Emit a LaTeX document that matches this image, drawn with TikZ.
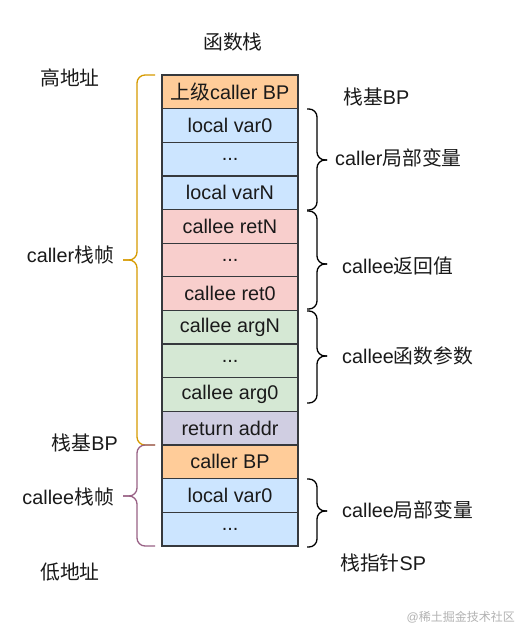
\documentclass[tikz,border=0pt]{standalone}
\usepackage{fontspec}
\setmainfont{Liberation Sans}
\newfontfamily\cjk{Noto Sans CJK SC}
\newcommand\zh[1]{{\cjk #1}}
\definecolor{orgF}{HTML}{FFCC99}
\definecolor{bluF}{HTML}{CCE5FF}
\definecolor{redF}{HTML}{F8CECC}
\definecolor{grnF}{HTML}{D5E8D4}
\definecolor{purF}{HTML}{D0CEE2}
\definecolor{strk}{HTML}{36393D}
\definecolor{txt}{HTML}{1A1A1A}
\definecolor{orgB}{HTML}{D79B00}
\definecolor{purB}{HTML}{996185}
\begin{document}
\begin{tikzpicture}[x=1pt,y=-1pt,
  cell/.style={draw=strk, line width=1.3pt, minimum width=136pt, minimum height=33.64pt, inner sep=0pt, font=\fontsize{19.8}{22}\selectfont, text=txt},
  lbl/.style={font=\fontsize{19.8}{22}\selectfont, text=txt, inner sep=0pt},
  brc/.style={line width=1.3pt, rounded corners=8pt},
  wmark/.style={font=\fontsize{12}{14}\selectfont, text=black!30, inner sep=0pt}]
\useasboundingbox[fill=white] (0,0) rectangle (524,629);
% stack cells
\node[cell, fill=orgF] (r1) at (230,91.82) {\zh{上级}caller BP};
\node[cell, fill=bluF] (r2) at (230,125.46) {local var0};
\node[cell, fill=bluF] (r3) at (230,159.10) {...};
\node[cell, fill=bluF] (r4) at (230,192.74) {local varN};
\node[cell, fill=redF] (r5) at (230,226.38) {callee retN};
\node[cell, fill=redF] (r6) at (230,260.02) {...};
\node[cell, fill=redF] (r7) at (230,293.66) {callee ret0};
\node[cell, fill=grnF] (r8) at (230,327.30) {callee argN};
\node[cell, fill=grnF] (r9) at (230,360.94) {...};
\node[cell, fill=grnF] (r10) at (230,394.58) {callee arg0};
\node[cell, fill=purF] (r11) at (230,428.22) {return addr};
\node[cell, fill=orgF] (r12) at (230,461.86) {caller BP};
\node[cell, fill=bluF] (r13) at (230,495.50) {local var0};
\node[cell, fill=bluF] (r14) at (230,529.14) {...};
% title
\node[lbl] (title) at (233,42) {\zh{函数栈}};
% left braces
\draw[brc, orgB] (155,75) -- (137,75) -- (137,260) -- (123,260);
\draw[brc, orgB] (123,260) -- (137,260) -- (137,445) -- (155,445);
\draw[brc, purB] (155,445) -- (137,445) -- (137,496) -- (123,496);
\draw[brc, purB] (123,496) -- (137,496) -- (137,546) -- (155,546);
% right braces
\draw[brc] (307,109) -- (317,109) -- (317,160) -- (327,160);
\draw[brc] (327,160) -- (317,160) -- (317,210) -- (307,210);
\draw[brc] (307,211) -- (317,211) -- (317,264) -- (327,264);
\draw[brc] (327,264) -- (317,264) -- (317,309) -- (307,309);
\draw[brc] (307,311) -- (317,311) -- (317,356) -- (327,356);
\draw[brc] (327,356) -- (317,356) -- (317,403) -- (307,403);
\draw[brc] (307,479) -- (317,479) -- (317,511) -- (327,511);
\draw[brc] (327,511) -- (317,511) -- (317,547) -- (307,547);
% left labels
\node[lbl] (hi) at (70,78) {\zh{高地址}};
\node[lbl, anchor=east] (callerf) at (114,255) {caller\zh{栈帧}};
\node[lbl, anchor=east] (bpl) at (118,443) {\zh{栈基}BP};
\node[lbl, anchor=east] (calleef) at (114,497) {callee\zh{栈帧}};
\node[lbl] (lo) at (70,572) {\zh{低地址}};
% right labels
\node[lbl, anchor=west] (bpr) at (343,97) {\zh{栈基}BP};
\node[lbl, anchor=west] (clv) at (335,158) {caller\zh{局部变量}};
\node[lbl, anchor=west] (cret) at (342,266) {callee\zh{返回值}};
\node[lbl, anchor=west] (carg) at (342,356) {callee\zh{函数参数}};
\node[lbl, anchor=west] (celv) at (342,510) {callee\zh{局部变量}};
\node[lbl, anchor=west] (sp) at (340,563) {\zh{栈指针}SP};
% watermark
\node[wmark, anchor=east] (wm) at (515,617) {@\zh{稀土掘金技术社区}};
\end{tikzpicture}
\end{document}
